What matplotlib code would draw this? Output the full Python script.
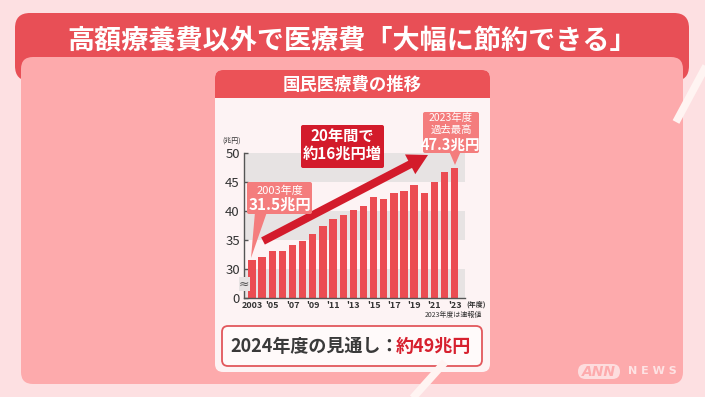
import numpy as np
import matplotlib
matplotlib.use('Agg')
import matplotlib.pyplot as plt
from matplotlib.patches import FancyBboxPatch, Rectangle, Polygon, FancyArrowPatch
from matplotlib.lines import Line2D

plt.rcParams['font.family'] = ['Noto Sans CJK JP', 'DejaVu Sans']

# ---------------- data ----------------
years = [2003, 2004, 2005, 2006, 2007, 2008, 2009, 2010, 2011, 2012, 2013,
         2014, 2015, 2016, 2017, 2018, 2019, 2020, 2021, 2022, 2023]
values = [31.5, 32.1, 33.1, 33.1, 34.1, 34.8, 36.0, 37.4, 38.6, 39.2, 40.1,
          40.8, 42.4, 42.1, 43.1, 43.4, 44.4, 43.0, 45.0, 46.7, 47.3]
ytick_values = [0, 30, 35, 40, 45, 50]
ytick_labels = ['0', '30', '35', '40', '45', '50']
xtick_years = [2003, 2005, 2007, 2009, 2011, 2013, 2015, 2017, 2019, 2021, 2023]
xtick_labels = ['2003', "'05", "'07", "'09", "'11", "'13", "'15", "'17", "'19", "'21", "'23"]

title = '高額療養費以外で医療費「大幅に節約できる」'
card_title = '国民医療費の推移'

# ---------------- colours ----------------
BG = '#fde0e2'
PANEL = '#fdaaac'
RED_BAR = '#e84f56'
HEADER = '#eb5257'
CARD = '#fdf3f4'
BAR = '#eb4c52'
GRAY = '#e7e3e3'
SALMON = '#f47d7d'
DARKRED = '#d31b2b'
TXT = '#333333'

W, H = 705, 397
fig = plt.figure(figsize=(W / 100, H / 100), dpi=100)
fig.patch.set_facecolor(BG)

# background axes in pixel units
bg = fig.add_axes([0, 0, 1, 1], zorder=0)
bg.set_xlim(0, W)
bg.set_ylim(H, 0)
bg.axis('off')

# decorative diagonal bands
bg.add_line(Line2D([402, 445], [410, 362], color='#fff4f2', lw=5.5, solid_capstyle='butt'))
bg.add_line(Line2D([676, 720], [122, 40], color='#fff4f2', lw=5.5, solid_capstyle='butt'))

# title bar
bg.add_patch(FancyBboxPatch((15, 13), 674, 68, boxstyle='round,pad=0,rounding_size=15',
                            fc=RED_BAR, ec='none'))
bg.text(352, 40, title, ha='center', va='center', color='white', fontsize=19.5,
        fontweight='bold')
# pink panel
bg.add_patch(FancyBboxPatch((21, 57), 662, 327, boxstyle='round,pad=0,rounding_size=12',
                            fc=PANEL, ec='none'))
# card
bg.add_patch(FancyBboxPatch((215, 70), 275, 302, boxstyle='round,pad=0,rounding_size=8',
                            fc=CARD, ec='none'))
bg.add_patch(FancyBboxPatch((215, 70), 275, 40, boxstyle='round,pad=0,rounding_size=8',
                            fc=HEADER, ec='none'))
bg.add_patch(Rectangle((215, 98), 275, 16, fc=CARD, ec='none'))
bg.text(352.5, 84.5, card_title, ha='center', va='center', color='white', fontsize=12.5,
        fontweight='bold')

# bottom box
bg.add_patch(FancyBboxPatch((222, 326), 260, 40, boxstyle='round,pad=0,rounding_size=6',
                            fc='#fffafa', ec='#e2575c', lw=1.3))

# ANN NEWS logo
bg.add_patch(FancyBboxPatch((578, 364), 42, 15, boxstyle='round,pad=0,rounding_size=7.5',
                            fc='#fde3e4', ec='none', alpha=0.9))
bg.text(599, 371.5, 'ANN', ha='center', va='center', color=PANEL, fontsize=10,
        fontweight='bold', fontstyle='italic', family='DejaVu Sans')
bg.text(652, 371.5, 'N E W S', ha='center', va='center', color='#fde3e4', fontsize=8,
        fontweight='bold', family='DejaVu Sans')

# ---------------- chart axes ----------------
def brk(v):
    v = np.asarray(v, dtype=float)
    return np.where(v >= 30, v - 25, v / 6.0)

ax = fig.add_axes([244 / W, 1 - 298 / H, (465 - 244) / W, (298 - 152.7) / H], zorder=1)
ax.set_facecolor('none')
x = np.arange(len(years))
for lo, hi in [(0, 5), (10, 15), (20, 25)]:
    ax.axhspan(lo, hi, color=GRAY, lw=0, zorder=0)
ax.bar(x, brk(values), width=0.72, color=BAR, zorder=2)
ax.set_xlim(-0.79, 21.02)
ax.set_ylim(0, 25)
ax.set_yticks(brk(ytick_values))
ax.set_yticklabels(ytick_labels)
ax.set_xticks([years.index(y) for y in xtick_years])
ax.set_xticklabels(xtick_labels)
for s in ['top', 'right']:
    ax.spines[s].set_visible(False)
for s in ['left', 'bottom']:
    ax.spines[s].set_color('#555555')
    ax.spines[s].set_linewidth(1.0)
ax.tick_params(axis='y', direction='in', length=3, width=1, color='#555555',
               labelsize=9.5, labelcolor=TXT, pad=3)
ax.tick_params(axis='x', length=0, labelsize=6.5, labelcolor=TXT, pad=2.5)
for t in ax.get_xticklabels():
    t.set_fontweight('bold')
ax.text(-0.79, 2.4, '≈', ha='center', va='center', fontsize=9, color='#555555',
        family='DejaVu Sans', clip_on=False, zorder=5,
        bbox=dict(boxstyle='square,pad=0.02', fc=GRAY, ec='none'))

# ---------------- overlay ----------------
ov = fig.add_axes([0, 0, 1, 1], zorder=3)
ov.set_xlim(0, W)
ov.set_ylim(H, 0)
ov.axis('off')
ov.patch.set_alpha(0)

ov.text(232, 141, '(兆円)', ha='center', va='center', fontsize=5, color=TXT)
ov.text(476, 304.5, '(年度)', ha='center', va='center', fontsize=5, color=TXT, fontweight='bold')
ov.text(482, 315, '2023年度は速報値', ha='right', va='center', fontsize=5, color=TXT)

# big arrow
ov.add_patch(FancyArrowPatch((263, 241), (428, 155),
                             arrowstyle='simple,head_width=1.6,head_length=1.45,tail_width=0.58',
                             mutation_scale=10, color=DARKRED, shrinkA=0, shrinkB=0, lw=0))

# callout 2003
ov.add_patch(Polygon([(255, 212), (267, 212), (251, 258)], closed=True, fc=SALMON, ec='none'))
ov.add_patch(FancyBboxPatch((247, 182), 65, 32, boxstyle='round,pad=0,rounding_size=2',
                            fc=SALMON, ec='none'))
ov.text(279.5, 190.5, '2003年度', ha='center', va='center', color='white', fontsize=8)
ov.text(279.5, 205, '31.5兆円', ha='center', va='center', color='white', fontsize=11,
        fontweight='bold')

# callout 2023
ov.add_patch(Polygon([(449, 151), (461, 151), (455, 165)], closed=True, fc=SALMON, ec='none'))
ov.add_patch(FancyBboxPatch((423, 112), 56, 41, boxstyle='round,pad=0,rounding_size=2',
                            fc=SALMON, ec='none'))
ov.text(451, 118, '2023年度', ha='center', va='center', color='white', fontsize=7.5)
ov.text(451, 129.5, '過去最高', ha='center', va='center', color='white', fontsize=7.5)
ov.text(451, 144.5, '47.3兆円', ha='center', va='center', color='white', fontsize=10.5,
        fontweight='bold')

# 20年間で box
ov.add_patch(FancyBboxPatch((301, 125), 83, 43, boxstyle='round,pad=0,rounding_size=2',
                            fc=DARKRED, ec='none'))
ov.text(342.5, 135.5, '20年間で', ha='center', va='center', color='white', fontsize=11,
        fontweight='bold')
ov.text(342.5, 154, '約16兆円増', ha='center', va='center', color='white', fontsize=11,
        fontweight='bold')

# bottom text
t1 = ov.text(230, 346, '2024年度の見通し：', ha='left', va='center', color='#3a3a3a',
             fontsize=13, fontweight='bold')
fig.canvas.draw()
bb = t1.get_window_extent(renderer=fig.canvas.get_renderer())
x_end = ov.transData.inverted().transform((bb.x1, bb.y0))[0]
ov.text(x_end - 3, 346, '約49兆円', ha='left', va='center', color='#d7202e',
        fontsize=13, fontweight='bold')

fig.savefig('out.png', dpi=100, facecolor=BG)
